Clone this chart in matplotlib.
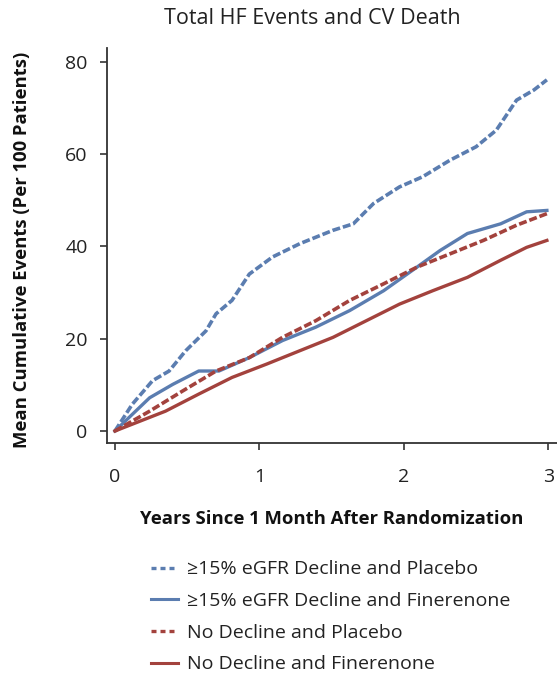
import matplotlib.pyplot as plt
from matplotlib.lines import Line2D

# mean cumulative events per 100 patients, by years since 1 month after randomization
decl_pbo_x = [0, 0.12, 0.26, 0.375, 0.49, 0.63, 0.70, 0.81, 0.93, 1.09, 1.28, 1.51, 1.65,
              1.79, 1.97, 2.13, 2.32, 2.50, 2.64, 2.78, 2.90, 2.99]
decl_pbo_y = [0, 5.8, 10.9, 13.0, 17.4, 21.7, 25.4, 28.3, 34.0, 37.7, 40.6, 43.5, 44.9,
              49.3, 52.9, 55.1, 58.7, 61.6, 65.2, 71.7, 73.9, 76.1]

decl_fin_x = [0, 0.24, 0.40, 0.58, 0.72, 0.93, 1.16, 1.39, 1.625, 1.86, 2.09, 2.25, 2.44,
              2.67, 2.85, 2.99]
decl_fin_y = [0, 7.2, 10.1, 13.0, 13.0, 15.9, 19.6, 22.5, 26.1, 30.4, 35.5, 39.1, 42.8,
              44.9, 47.5, 47.8]

nodecl_pbo_x = [0, 0.24, 0.47, 0.70, 0.93, 1.16, 1.39, 1.625, 1.86, 2.09, 2.32, 2.55, 2.78, 2.99]
nodecl_pbo_y = [0, 4.3, 8.7, 13.0, 15.9, 20.3, 23.9, 28.3, 31.9, 35.5, 38.4, 41.3, 44.6, 47.1]

nodecl_fin_x = [0, 0.35, 0.58, 0.81, 1.05, 1.28, 1.51, 1.74, 1.97, 2.20, 2.44, 2.67, 2.85, 2.99]
nodecl_fin_y = [0, 4.3, 8.0, 11.6, 14.5, 17.4, 20.3, 23.9, 27.5, 30.4, 33.3, 37.0, 39.8, 41.3]

labels = ['≥15% eGFR Decline and Placebo', '≥15% eGFR Decline and Finerenone',
          'No Decline and Placebo', 'No Decline and Finerenone']

blue = '#5b7db0'
red = '#a3423d'
plt.rcParams['font.family'] = ['Open Sans', 'DejaVu Sans']

fig = plt.figure(figsize=(5.57, 6.74), dpi=100)
ax = fig.add_axes([107/557, 1 - 443/674, 450/557, (443 - 48)/674])

ax.plot(decl_pbo_x, decl_pbo_y, color=blue, lw=2.6, dashes=(2.2, 0.8))
ax.plot(decl_fin_x, decl_fin_y, color=blue, lw=2.4)
ax.plot(nodecl_pbo_x, nodecl_pbo_y, color=red, lw=2.6, dashes=(2.2, 0.8))
ax.plot(nodecl_fin_x, nodecl_fin_y, color=red, lw=2.4)

ax.set_xlim(-0.055, 3.06)
ax.set_ylim(-2.6, 83)
ax.set_xticks([0, 1, 2, 3])
ax.set_yticks([0, 20, 40, 60, 80])
ax.spines['top'].set_visible(False)
ax.spines['right'].set_visible(False)
for s in ['left', 'bottom']:
    ax.spines[s].set_color('#333333')
    ax.spines[s].set_linewidth(1.3)
ax.tick_params(colors='#333333', labelcolor='#222222', length=5, width=1.2,
               labelsize=14)
ax.tick_params(axis='y', pad=9)
ax.tick_params(axis='x', pad=13)

fig.text(312/557, 1 - 18/674, 'Total HF Events and CV Death', ha='center', va='center',
         fontsize=15.5, color='#222222')
fig.text(22/557, 1 - 250/674, 'Mean Cumulative Events (Per 100 Patients)', rotation=90,
         ha='center', va='center', fontsize=13.3, fontweight='bold', color='#111111')
fig.text(332/557, 1 - 519/674, 'Years Since 1 Month After Randomization', ha='center',
         va='center', fontsize=13.3, fontweight='bold', color='#111111')

handles = [Line2D([], [], color=blue, lw=2.4, dashes=(1.5, 1.2)),
           Line2D([], [], color=blue, lw=2.2),
           Line2D([], [], color=red, lw=2.4, dashes=(1.5, 1.2)),
           Line2D([], [], color=red, lw=2.2)]
fig.legend(handles, labels, loc='upper left', bbox_to_anchor=(133/557, 1 - 543/674),
           frameon=False, fontsize=14, handlelength=1.4, handletextpad=0.5,
           labelspacing=0.7, labelcolor='#222222')

fig.savefig('out.png', dpi=100)
